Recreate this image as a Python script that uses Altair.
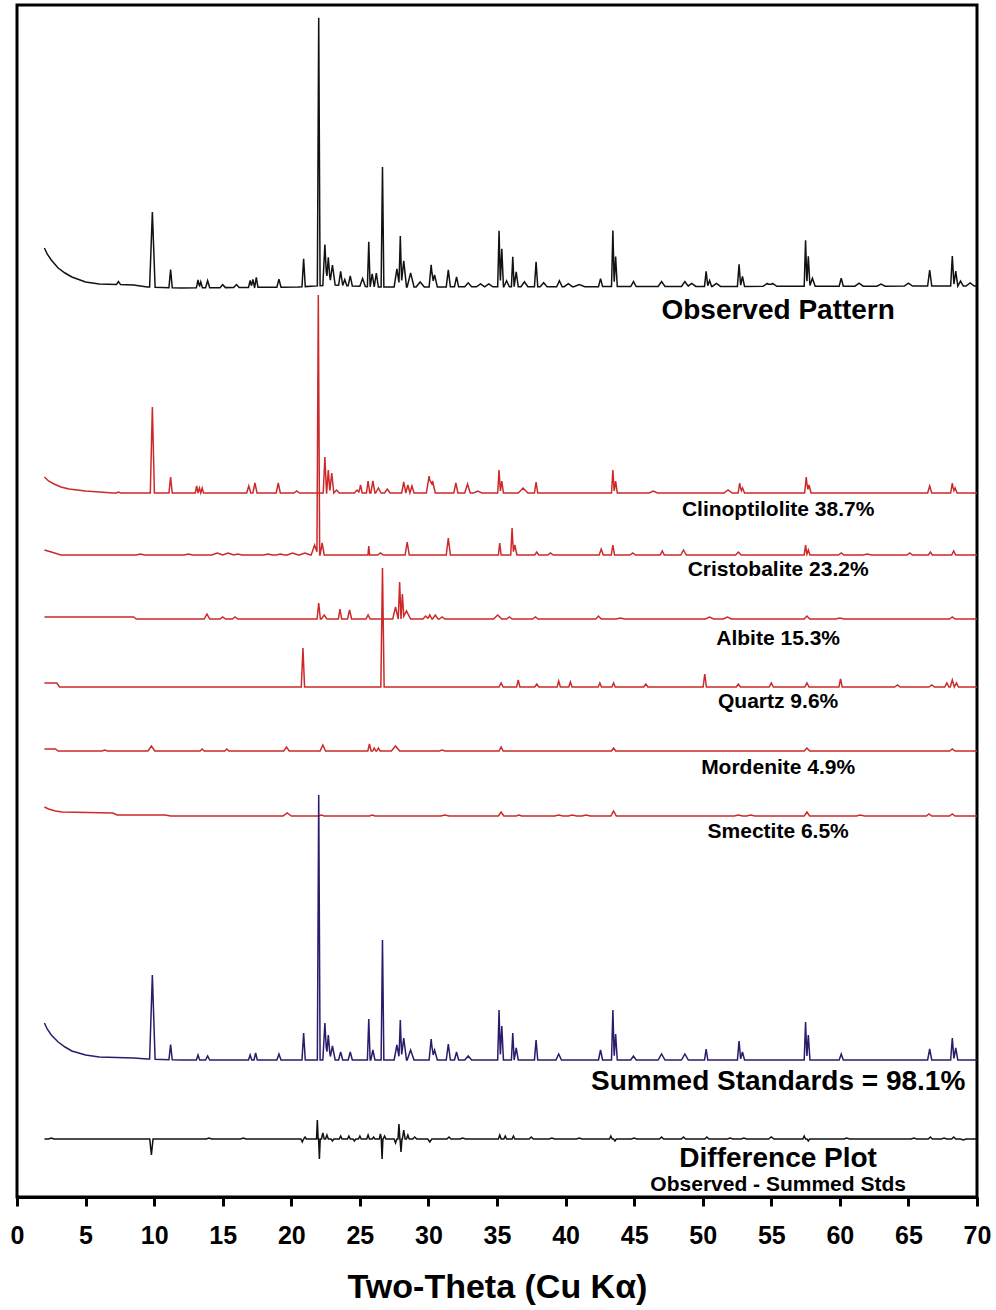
import altair as alt
import numpy as np
import pandas as pd

# ---------------- values (heights in plot units above each trace's baseline) ----------------
# Observed pattern
obs_bg_x = [2.0, 2.2, 2.5, 3.0, 3.5, 4.0, 5.0, 6.0, 8.5, 9.5, 12.0, 20.5, 23.0, 26.0, 70.0]
obs_bg_h = [40, 34, 28, 20, 15, 11, 6, 4, 3, 1, 0, 1, 3, 1, 2]
obs_pk_x = [7.4, 9.87, 11.2, 13.2, 13.4, 13.9, 15.0, 16.0, 17.0, 17.2, 17.45, 19.1, 20.9, 22.0, 22.45, 22.7, 23.0,
            23.6, 23.9, 24.3, 25.2, 25.65, 25.9, 26.2, 26.65, 27.7, 27.95, 28.2, 28.7, 29.4, 30.2, 30.45, 31.45,
            32.05, 32.9, 33.8, 34.4, 35.15, 35.35, 35.7, 36.15, 36.4, 37.0, 37.85, 38.4, 39.55, 40.2, 41.0, 42.55,
            43.45, 43.65, 44.95, 47.0, 48.7, 49.2, 50.25, 50.5, 51.0, 52.65, 52.9, 54.7, 55.1, 57.5, 57.7, 58.0,
            60.1, 61.4, 63.0, 65.0, 66.55, 68.2, 68.45, 68.8, 69.5]
obs_pk_h = [3, 75, 18, 8, 6, 7, 3, 3, 7, 8, 10, 8, 28, 268, 41, 28, 20,
            14, 6, 10, 8, 45, 13, 14, 120, 18, 51, 26, 14, 5, 22, 12, 17,
            10, 4, 3, 3, 56, 38, 6, 30, 15, 5, 25, 4, 6, 3, 2, 8,
            56, 30, 5, 5, 5, 3, 15, 6, 3, 22, 10, 3, 3, 46, 30, 8,
            8, 3, 2, 3, 16, 30, 15, 5, 3]
obs_pk_w = [0.15, 0.2, 0.12, 0.12, 0.12, 0.15, 0.2, 0.2, 0.12, 0.12, 0.12, 0.15, 0.12, 0.1, 0.15, 0.15, 0.2,
            0.15, 0.15, 0.15, 0.2, 0.1, 0.15, 0.15, 0.1, 0.2, 0.1, 0.2, 0.25, 0.3, 0.15, 0.2, 0.15,
            0.15, 0.25, 0.3, 0.3, 0.1, 0.12, 0.2, 0.1, 0.15, 0.25, 0.12, 0.25, 0.2, 0.3, 0.4, 0.15,
            0.1, 0.12, 0.2, 0.25, 0.25, 0.3, 0.12, 0.15, 0.3, 0.12, 0.15, 0.3, 0.3, 0.1, 0.12, 0.2,
            0.15, 0.3, 0.3, 0.3, 0.15, 0.12, 0.15, 0.2, 0.3]

# Clinoptilolite 38.7 %
cli_bg_x = [2.0, 2.3, 2.7, 3.2, 3.8, 5.0, 7.0, 70.0]
cli_bg_h = [16, 12, 9, 6, 4, 2, 0, 0]
cli_pk_x = [7.4, 9.87, 11.2, 13.1, 13.3, 13.5, 16.9, 17.35, 19.05, 20.4, 22.45, 22.7, 22.95, 23.3, 24.8, 25.05,
            25.6, 25.95, 26.35, 27.0, 28.2, 28.5, 28.8, 30.05, 30.3, 32.0, 32.85, 33.6, 35.15, 35.35, 36.9,
            37.85, 43.45, 43.65, 46.4, 51.85, 52.7, 52.9, 57.55, 57.75, 66.55, 68.2, 68.4]
cli_pk_h = [1, 86, 16, 7, 5, 5, 7, 10, 10, 2, 36, 23, 20, 3, 3, 8,
            12, 12, 5, 4, 11, 8, 7, 17, 12, 10, 9, 2, 23, 12, 5,
            11, 23, 12, 2, 3, 10, 5, 16, 8, 7, 10, 5]
cli_pk_w = [0.15, 0.15, 0.12, 0.1, 0.1, 0.1, 0.15, 0.15, 0.15, 0.2, 0.12, 0.12, 0.15, 0.2, 0.2, 0.12,
            0.12, 0.15, 0.2, 0.2, 0.15, 0.15, 0.15, 0.2, 0.2, 0.15, 0.2, 0.3, 0.1, 0.12, 0.35,
            0.12, 0.1, 0.12, 0.3, 0.3, 0.12, 0.15, 0.12, 0.15, 0.15, 0.12, 0.15]

# Cristobalite 23.2 %
cri_bg_x = [2.0, 2.5, 3.2, 70.0]
cri_bg_h = [5, 3, 0, 0]
cri_pk_x = [9.0, 12.5, 14.6, 15.4, 16.1, 18.3, 19.2, 20.1, 21.0, 21.7, 21.97, 22.25, 25.65, 26.5, 28.45, 31.45,
            35.2, 36.1, 36.3, 37.9, 38.9, 42.6, 43.45, 44.9, 47.05, 48.6, 52.6, 57.5, 57.7, 60.1, 62.0, 65.1,
            66.6, 68.3]
cri_pk_h = [1, 1, 2, 2, 1, 1, 1, 2, 2, 10, 260, 12, 9, 2, 13, 17,
            12, 27, 10, 3, 2, 6, 10, 2, 4, 5, 3, 10, 5, 2, 1, 2,
            3, 4]
cri_pk_w = [0.3, 0.3, 0.4, 0.4, 0.3, 0.3, 0.3, 0.4, 0.4, 0.25, 0.1, 0.15, 0.06, 0.2, 0.15, 0.15,
            0.1, 0.1, 0.15, 0.15, 0.2, 0.15, 0.12, 0.2, 0.15, 0.2, 0.2, 0.1, 0.12, 0.2, 0.3, 0.2,
            0.15, 0.15]

# Albite 15.3 %
alb_bg_x = [2.0, 8.5, 8.7, 70.0]
alb_bg_h = [2, 2, 0, 0]
alb_pk_x = [13.85, 15.0, 15.9, 22.0, 22.4, 23.55, 24.25, 25.6, 27.6, 27.9, 28.1, 28.4, 29.8, 30.1, 30.5, 31.0,
            35.05, 35.9, 37.8, 42.4, 44.0, 50.5, 51.8, 57.6, 60.0, 68.2]
alb_pk_h = [5, 2, 2, 16, 4, 10, 9, 4, 12, 37, 25, 8, 3, 4, 4, 2,
            4, 2, 2, 3, 1, 2, 2, 3, 1, 2]
alb_pk_w = [0.2, 0.2, 0.2, 0.12, 0.2, 0.12, 0.15, 0.15, 0.2, 0.1, 0.1, 0.3, 0.2, 0.15, 0.2, 0.2,
            0.3, 0.2, 0.2, 0.2, 0.3, 0.3, 0.3, 0.2, 0.3, 0.2]

# Quartz 9.6 %
qtz_bg_x = [2.0, 2.9, 3.1, 70.0]
qtz_bg_h = [4, 4, 0, 0]
qtz_pk_x = [20.85, 26.65, 35.3, 36.55, 37.9, 39.5, 40.35, 42.5, 43.5, 45.85, 50.15, 52.6, 55.0, 57.6, 60.05,
            64.2, 66.7, 67.8, 68.2, 68.5]
qtz_pk_h = [39, 119, 4, 7, 3, 6, 5, 4, 4, 3, 13, 3, 4, 4, 8,
            2, 2, 4, 7, 4]
qtz_pk_w = [0.12, 0.12, 0.15, 0.12, 0.15, 0.12, 0.12, 0.12, 0.12, 0.15, 0.12, 0.15, 0.15, 0.15, 0.12,
            0.2, 0.2, 0.15, 0.15, 0.15]

# Mordenite 4.9 %
mor_bg_x = [2.0, 2.8, 3.0, 70.0]
mor_bg_h = [2, 2, 0, 0]
mor_pk_x = [6.4, 9.8, 13.5, 15.3, 19.65, 22.3, 25.7, 26.05, 26.35, 27.6, 31.0, 35.3, 43.5, 57.6, 68.2]
mor_pk_h = [1, 5, 2, 2, 4, 6, 7, 3, 3, 5, 1, 4, 3, 3, 2]
mor_pk_w = [0.2, 0.25, 0.15, 0.15, 0.2, 0.2, 0.12, 0.12, 0.12, 0.3, 0.2, 0.15, 0.15, 0.2, 0.2]

# Smectite 6.5 %
sme_bg_x = [2.0, 2.3, 2.8, 3.3, 7.0, 7.3, 10.8, 11.2, 70.0]
sme_bg_h = [9, 7, 5, 4, 3, 1, 1, 0, 0]
sme_pk_x = [19.7, 22.2, 25.9, 31.2, 35.3, 36.6, 39.5, 40.5, 41.5, 43.5, 52.6, 53.5, 57.6, 61.5, 66.5, 68.2]
sme_pk_h = [3, 1, 1, 1, 4, 1, 1, 1, 1, 5, 1, 1, 4, 1, 2, 2]
sme_pk_w = [0.3, 0.2, 0.2, 0.3, 0.2, 0.2, 0.3, 0.3, 0.3, 0.2, 0.3, 0.3, 0.2, 0.3, 0.2, 0.2]

# Summed standards = 98.1 %
sum_bg_x = [2.0, 2.2, 2.5, 3.0, 3.5, 4.0, 5.0, 6.0, 8.5, 9.5, 12.0, 70.0]
sum_bg_h = [37, 31, 25, 18, 13, 9, 5, 3, 2, 1, 0, 0]
sum_pk_x = [9.87, 11.2, 13.2, 13.9, 17.0, 17.4, 19.1, 20.9, 22.0, 22.45, 22.7, 23.0, 23.6, 24.3, 25.65, 25.95,
            26.65, 27.7, 27.95, 28.2, 28.7, 30.2, 30.45, 31.45, 32.05, 32.9, 35.15, 35.35, 36.15, 36.4, 37.85,
            39.5, 42.55, 43.45, 43.65, 44.95, 47.0, 48.7, 50.25, 52.65, 52.9, 57.5, 57.7, 60.1, 66.55, 68.2,
            68.45]
sum_pk_h = [84, 15, 5, 4, 5, 7, 6, 27, 265, 37, 25, 14, 8, 8, 41, 10,
            120, 15, 40, 22, 10, 21, 10, 16, 8, 4, 50, 34, 27, 12, 20,
            6, 10, 50, 26, 4, 6, 6, 11, 19, 8, 38, 25, 6, 11, 22,
            12]
sum_pk_w = [0.2, 0.12, 0.12, 0.15, 0.12, 0.12, 0.15, 0.12, 0.1, 0.15, 0.15, 0.2, 0.15, 0.15, 0.1, 0.15,
            0.1, 0.2, 0.1, 0.2, 0.25, 0.15, 0.2, 0.15, 0.15, 0.25, 0.1, 0.12, 0.1, 0.15, 0.12,
            0.2, 0.15, 0.1, 0.12, 0.2, 0.25, 0.25, 0.12, 0.12, 0.15, 0.1, 0.12, 0.15, 0.15, 0.12,
            0.15]

# Difference plot (observed - summed standards)
dif_bg_x = [2.0, 70.0]
dif_bg_h = [0, 0]
dif_pk_x = [2.5, 9.8, 14.0, 16.5, 20.8, 21.0, 21.9, 22.05, 22.3, 22.6, 23.0, 23.6, 24.2, 24.6, 25.0, 25.6, 26.0,
            26.5, 26.62, 26.8, 27.6, 27.85, 28.0, 28.2, 28.5, 29.0, 30.1, 31.5, 32.5, 35.2, 35.6, 36.2, 37.5,
            39.0, 41.0, 43.3, 43.6, 45.0, 47.0, 48.6, 50.3, 52.0, 53.0, 55.0, 57.4, 57.7, 60.5, 65.4, 66.6,
            67.6, 68.3, 69.0]
dif_pk_h = [1, -16, 1, 1, -3, 2, 19, -20, 6, 4, -2, 3, 3, -2, 3, 4, 2,
            5, -20, 3, -4, 15, -13, 9, 4, 2, -3, 2, 1, 4, 3, 3, 2,
            1, 1, 3, -2, 1, 2, 2, 2, 1, 1, 2, 3, -2, 1, 1, 2,
            1, 2, -1]
dif_pk_w = [0.2, 0.12, 0.2, 0.2, 0.1, 0.1, 0.06, 0.06, 0.1, 0.1, 0.1, 0.1, 0.1, 0.1, 0.1, 0.1, 0.1,
            0.08, 0.06, 0.1, 0.1, 0.07, 0.07, 0.1, 0.1, 0.15, 0.15, 0.15, 0.2, 0.1, 0.1, 0.1, 0.15,
            0.2, 0.2, 0.1, 0.1, 0.2, 0.15, 0.15, 0.15, 0.2, 0.2, 0.2, 0.1, 0.1, 0.2, 0.2, 0.15,
            0.2, 0.15, 0.2]

# Trace names and the annotation texts
trace_names = ["Observed", "Clinoptilolite", "Cristobalite", "Albite", "Quartz", "Mordenite", "Smectite",
               "Summed", "Difference"]
label_texts = ["Observed Pattern", "Clinoptilolite 38.7%", "Cristobalite 23.2%", "Albite 15.3%", "Quartz 9.6%",
               "Mordenite 4.9%", "Smectite 6.5%", "Summed Standards = 98.1%", "Difference Plot",
               "Observed - Summed Stds"]

# ---------------- layout (vertical stacking offsets, label placement, styling) ----------------
PLOT_W, PLOT_H = 960, 1192
offsets = {"Observed": 909, "Clinoptilolite": 704, "Cristobalite": 642, "Albite": 578, "Quartz": 510,
           "Mordenite": 446, "Smectite": 381, "Summed": 137, "Difference": 58}
label_y = [886, 687, 627, 558, 495, 429, 365, 115, 38, 12]
label_size = [28, 21, 21, 21, 21, 21, 21, 28, 28, 21]
LABEL_X = 55.5
colors = {"Observed": "#111111", "Clinoptilolite": "#cc2a2a", "Cristobalite": "#cc2a2a", "Albite": "#cc2a2a",
          "Quartz": "#cc2a2a", "Mordenite": "#cc2a2a", "Smectite": "#cc2a2a", "Summed": "#2c1a6b",
          "Difference": "#111111"}

traces = {
    "Observed": (obs_bg_x, obs_bg_h, obs_pk_x, obs_pk_h, obs_pk_w),
    "Clinoptilolite": (cli_bg_x, cli_bg_h, cli_pk_x, cli_pk_h, cli_pk_w),
    "Cristobalite": (cri_bg_x, cri_bg_h, cri_pk_x, cri_pk_h, cri_pk_w),
    "Albite": (alb_bg_x, alb_bg_h, alb_pk_x, alb_pk_h, alb_pk_w),
    "Quartz": (qtz_bg_x, qtz_bg_h, qtz_pk_x, qtz_pk_h, qtz_pk_w),
    "Mordenite": (mor_bg_x, mor_bg_h, mor_pk_x, mor_pk_h, mor_pk_w),
    "Smectite": (sme_bg_x, sme_bg_h, sme_pk_x, sme_pk_h, sme_pk_w),
    "Summed": (sum_bg_x, sum_bg_h, sum_pk_x, sum_pk_h, sum_pk_w),
    "Difference": (dif_bg_x, dif_bg_h, dif_pk_x, dif_pk_h, dif_pk_w),
}


def build(bg_x, bg_h, pk_x, pk_h, pk_w):
    """Piecewise-linear trace: read background points plus read peaks (triangles), evaluated at breakpoints."""
    xs = set(bg_x)
    for c, w in zip(pk_x, pk_w):
        xs.update([round(c - w, 4), c, round(c + w, 4)])
    xs = np.array(sorted(x for x in xs if bg_x[0] <= x <= bg_x[-1]))
    ys = np.interp(xs, bg_x, bg_h).astype(float)
    for c, h, w in zip(pk_x, pk_h, pk_w):
        ys += h * np.clip(1 - np.abs(xs - c) / w, 0, 1)
    return xs, ys


rows = []
for order, name in enumerate(trace_names):
    xs, ys = build(*traces[name])
    for i, (x, y) in enumerate(zip(xs, ys)):
        rows.append({"theta": float(x), "y": float(y + offsets[name]), "series": name, "order": order, "i": i})
df = pd.DataFrame(rows)

lab = pd.DataFrame({"theta": [LABEL_X] * len(label_texts), "y": label_y, "text": label_texts,
                    "size": label_size})

FONT = "Liberation Sans, Arial, sans-serif"

x_enc = alt.X("theta:Q", scale=alt.Scale(domain=[0, 70], nice=False, zero=False),
              axis=alt.Axis(values=list(range(0, 71, 5)), title="Two-Theta (Cu Kα)", grid=False,
                            labelFont=FONT, labelFontWeight="bold", labelFontSize=25, labelColor="black",
                            labelPadding=17, labelFlush=False, labelOverlap=False,
                            titleFont=FONT, titleFontWeight="bold", titleFontSize=34, titleColor="black",
                            titlePadding=22, tickSize=9, tickWidth=3, tickColor="black",
                            domainColor="black", domainWidth=3))
y_scale = alt.Scale(domain=[0, PLOT_H], nice=False, zero=False)

lines = alt.Chart(df).mark_line(strokeWidth=1.5, clip=True).encode(
    x=x_enc,
    y=alt.Y("y:Q", scale=y_scale, axis=None),
    color=alt.Color("series:N", scale=alt.Scale(domain=list(colors.keys()), range=list(colors.values())),
                    legend=None),
    detail="series:N",
    order="i:Q",
)

texts = alt.Chart(lab).mark_text(font=FONT, fontWeight="bold", color="black", baseline="middle",
                                 align="center").encode(
    x=alt.X("theta:Q", scale=alt.Scale(domain=[0, 70], nice=False, zero=False)),
    y=alt.Y("y:Q", scale=y_scale),
    text="text:N",
    size=alt.Size("size:Q", scale=None, legend=None),
)

chart = alt.layer(lines, texts).properties(
    width=PLOT_W, height=PLOT_H,
    padding={"left": 17, "top": 5, "right": 19, "bottom": 113},
    autosize=alt.AutoSizeParams(type="none"),
    background="white",
).configure_view(stroke="black", strokeWidth=3)

chart.save("out.html", embed_options={"renderer": "svg", "actions": False})
